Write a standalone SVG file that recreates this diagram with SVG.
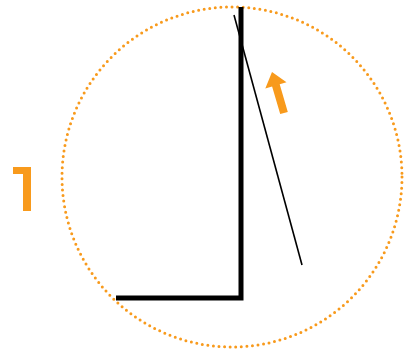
<svg xmlns="http://www.w3.org/2000/svg" width="405" height="351" viewBox="0 0 405 351">
<style>
.orange{fill:#F89A1C;}
.circ{fill:none;stroke:#F89A1C;stroke-width:3;stroke-dasharray:0 5.6;stroke-linecap:round;}
.thick{fill:none;stroke:#000;stroke-width:5;stroke-linejoin:miter;}
.thin{fill:none;stroke:#000;stroke-width:1.6;}
</style>
<rect width="405" height="351" fill="#fff"/>
<g id="circle"><circle class="circ" cx="232" cy="177" r="170"/></g>
<g id="connectors">
<polyline class="thick" points="241,7 241,298 116,298"/>
<line class="thin" x1="234" y1="15" x2="302" y2="265"/>
</g>
<g id="arrow"><polygon class="orange" points="287.8,111.9 280.2,114.1 272.1,86.5 265.3,88.5 272,72 286.5,82.3 279.7,84.3"/></g>
<g id="mark"><polygon class="orange" points="13,167 31,167 31,211 23,211 23,174 13,174"/></g>
</svg>
